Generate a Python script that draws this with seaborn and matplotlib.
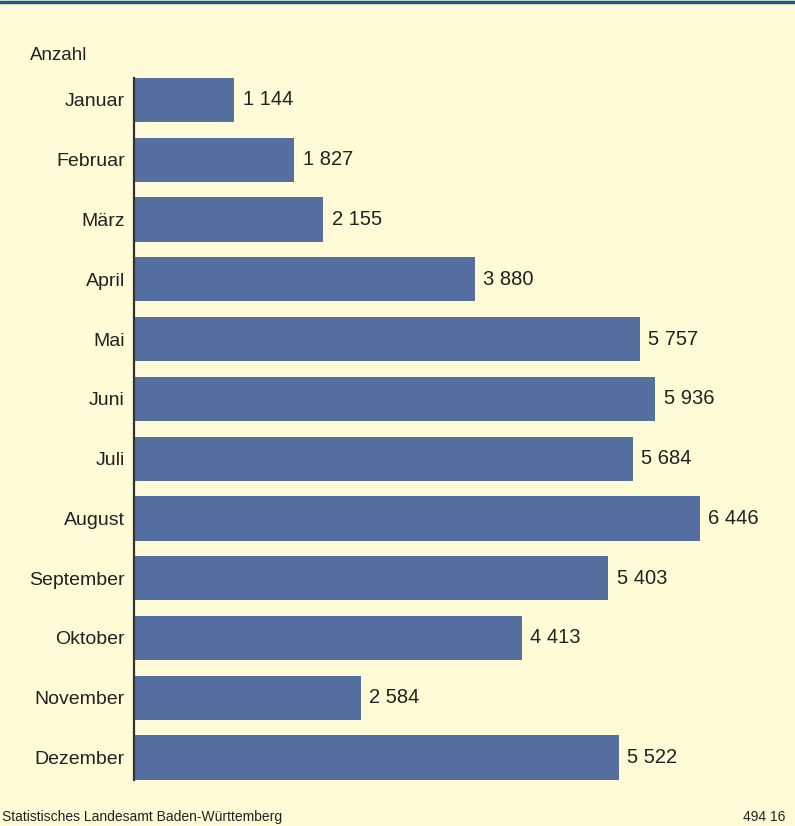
import pandas as pd
import matplotlib.pyplot as plt
import seaborn as sns

# Monthly counts
months = ["Januar", "Februar", "März", "April", "Mai", "Juni", "Juli",
          "August", "September", "Oktober", "November", "Dezember"]
counts = [1144, 1827, 2155, 3880, 5757, 5936, 5684, 6446, 5403, 4413, 2584, 5522]

unit_label = "Anzahl"
source_text = "Statistisches Landesamt Baden-Württemberg"
chart_id = "494 16"

BG = "#FFFBD7"
BAR = "#5570A0"
TEXT = "#222222"


def fmt(v):
    # German style: space as thousands separator
    return f"{v:,}".replace(",", " ")


def main():
    sns.set_style("white")
    plt.rcParams["font.family"] = ["Liberation Sans", "DejaVu Sans"]

    df = pd.DataFrame({"month": months, "count": counts})

    W, H = 795, 826
    fig = plt.figure(figsize=(W / 100, H / 100), dpi=100, facecolor=BG)

    # axes placed in pixel terms: left edge at the axis line, rows ~59.8 px apart
    left, top, bottom = 134, 70.1, 787.4
    ax = fig.add_axes([left / W, 1 - bottom / H, (W - left) / W, (bottom - top) / H])
    ax.set_facecolor(BG)

    sns.barplot(data=df, y="month", x="count", orient="h", color=BAR,
                width=0.74, saturation=1, linewidth=0, ax=ax)

    ax.set_xlim(0, (W - left) / 0.08781)
    ax.set_ylim(11.5, -0.5)

    ax.bar_label(ax.containers[0], labels=[fmt(v) for v in counts],
                 padding=6, fontsize=14.5, color=TEXT)

    for side in ["top", "right", "bottom"]:
        ax.spines[side].set_visible(False)
    ax.spines["left"].set_color("#333333")
    ax.spines["left"].set_linewidth(1.6)
    ax.spines["left"].set_bounds(-0.37, 11.37)

    ax.set_xticks([])
    ax.set_xlabel("")
    ax.set_ylabel("")
    ax.tick_params(axis="y", length=0, pad=6.5, labelsize=14, labelcolor=TEXT)

    fig.text(30 / W, 1 - 56 / H, unit_label, fontsize=13.5, color=TEXT,
             ha="left", va="center")
    fig.text(2 / W, 1 - 817 / H, source_text, fontsize=10, color=TEXT,
             ha="left", va="center")
    fig.text(785 / W, 1 - 817 / H, chart_id, fontsize=10, color=TEXT,
             ha="right", va="center")

    # dark blue rule across the top edge
    fig.add_artist(plt.Line2D([0, 1], [1 - 1.5 / H, 1 - 1.5 / H],
                              transform=fig.transFigure, color="#1B5A8A",
                              linewidth=2.5))

    fig.savefig("out.png", dpi=100, facecolor=BG)
    plt.close(fig)


if __name__ == "__main__":
    main()
